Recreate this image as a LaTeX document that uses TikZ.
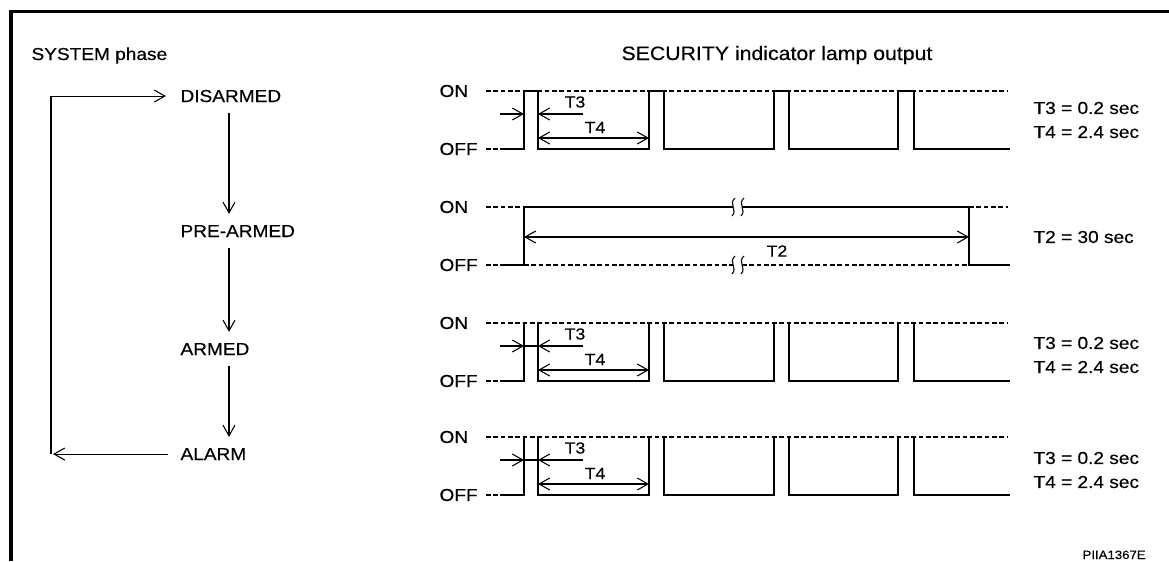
\documentclass[tikz,border=0pt]{standalone}
\usepackage{fontspec}
\setmainfont{Liberation Sans}[FakeStretch=1.1,FakeBold=0.4]
\usetikzlibrary{arrows.meta}

\begin{document}
\begin{tikzpicture}[x=0.75pt,y=-0.75pt,line width=0.8pt,
  >={Straight Barb[length=8pt,width=9pt]},
  lbl/.style={font=\fontsize{13}{15}\selectfont,inner sep=0pt},
  phase/.style={font=\fontsize{13}{15}\selectfont,inner xsep=0pt,inner ysep=8pt,anchor=base west},
  dim/.style={font=\fontsize{12}{14}\selectfont,inner sep=0pt},
  lvl/.style={dash pattern=on 3.5pt off 2pt}]
 \useasboundingbox (0,0) rectangle (1169,561);
 \draw[line width=2.6pt] (11,561) -- (11,11.7) -- (1169,11.7);
 % system phases
 \node[lbl,anchor=base west] (sys) at (31,60) {SYSTEM phase};
 \node[phase] (dis) at (180,102) {DISARMED};
 \node[phase] (pre) at (180,237) {PRE-ARMED};
 \node[phase] (arm) at (180,355) {ARMED};
 \node[phase] (alm) at (180,460) {ALARM};
 \coordinate (sp) at (229,0);
 \coordinate (lp) at (51,0);
 \draw[->] (dis.south -| sp) -- (pre.north -| sp);
 \draw[->] (pre.south -| sp) -- (arm.north -| sp);
 \draw[->] (arm.south -| sp) -- (alm.north -| sp);
 \draw[->,shorten <=9pt,shorten >=1.5pt] (alm.west) -- (alm.west -| lp);
 \draw[->,shorten >=10.5pt] (alm.west -| lp) |- (dis.west);
 % lamp output
 \node[lbl,font=\fontsize{14.5}{16}\selectfont,anchor=base west] (lamp) at (621,60) {SECURITY indicator lamp output};
 \foreach \dy/\ty in {91/17,323/20,437/21} {
  \begin{scope}[shift={(0,\dy)}]
   \node[lbl,anchor=west] (on\dy) at (439,0) {ON};
   \node[lbl,anchor=west] (off\dy) at (439,58) {OFF};
   \draw[lvl] (486,0) -- (1008,0);
   \draw[lvl] (486,58) -- (500,58);
   \draw (500,58) -- (524,58) -- (524,0) (538,0) -- (538,58) -- (649,58) -- (649,0)
    (664,0) -- (664,58) -- (774,58) -- (774,0) (789,0) -- (789,58) -- (898,58) -- (898,0)
    (914,0) -- (914,58) -- (1010,58);
   \draw[->] (500,23) -- (524,23);
   \draw[->] (583,23) -- (538,23);
   \node[dim] (tt\dy) at (575,11) {T3};
   \draw[<->] (538,47) -- (649,47);
   \node[dim] (tf\dy) at (595,36.5) {T4};
   \node[lbl,anchor=west] (vt\dy) at (1033,\ty) {T3 = 0.2 sec};
   \node[lbl,anchor=west] (vf\dy) at (1033,\ty+24) {T4 = 2.4 sec};
  \end{scope}
 }
 \draw (524,91) -- (538,91) (649,91) -- (664,91) (774,91) -- (789,91) (898,91) -- (914,91);
 \draw (524,346) -- (538,346) (524,460) -- (538,460);
 % long pulse
 \begin{scope}[shift={(0,207)}]
  \node[lbl,anchor=west] (on2) at (439,0) {ON};
  \node[lbl,anchor=west] (off2) at (439,58) {OFF};
  \draw[lvl] (486,0) -- (524,0) (969,0) -- (1008,0);
  \draw[lvl] (486,58) -- (500,58) (524,58) -- (733,58) (742,58) -- (969,58);
  \draw (500,58) -- (524,58) -- (524,0) -- (733,0) (742,0) -- (969,0) -- (969,58) -- (1010,58);
  \foreach \bx in {733,742}
   \foreach \by in {0,58}
    \draw (\bx+2,\by-9) .. controls (\bx-5,\by-3) and (\bx+5,\by+3) .. (\bx-1,\by+9);
  \draw[<->] (524,30) -- (969,30);
  \node[dim] (tw) at (777,44) {T2};
  \node[lbl,anchor=west] (vw) at (1033,30) {T2 = 30 sec};
 \end{scope}
 \node[font=\fontsize{9}{11}\selectfont,inner sep=0pt,anchor=base west] (code) at (1082,559) {PIIA1367E};
\end{tikzpicture}
\end{document}
